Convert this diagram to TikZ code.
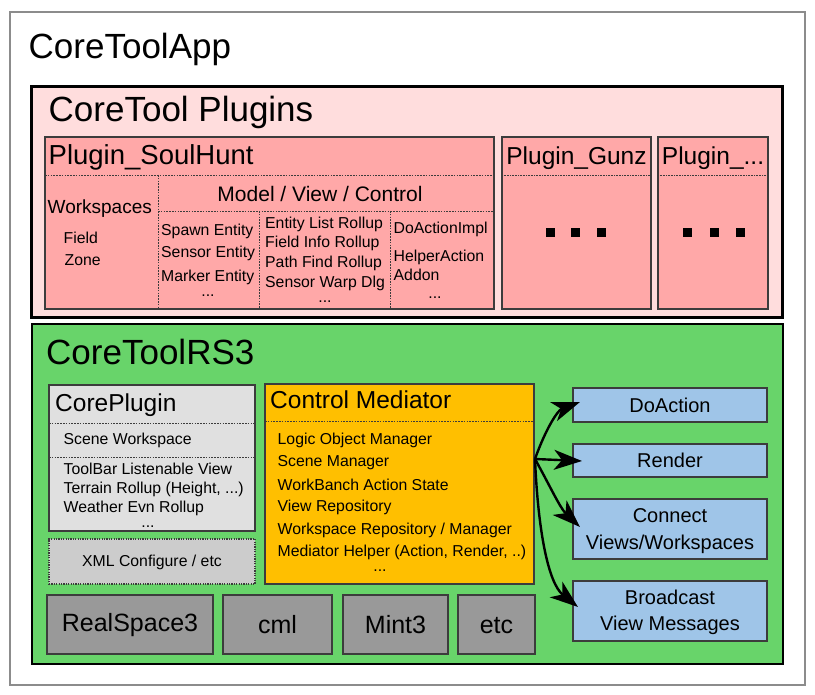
\documentclass[tikz,border=0pt]{standalone}
\usepackage{fontspec}
\setmainfont{Liberation Sans}
\usetikzlibrary{fit,calc,arrows.meta}
\newcommand\myfs[1]{\fontsize{#1}{#1}\selectfont}
\definecolor{pinkbg}{RGB}{255,221,221}
\definecolor{pinkbox}{RGB}{255,168,168}
\definecolor{rsgreen}{RGB}{104,212,106}
\definecolor{cpgray}{RGB}{224,224,224}
\definecolor{xmlgray}{RGB}{204,204,204}
\definecolor{cmorange}{RGB}{255,191,0}
\definecolor{libgray}{RGB}{153,153,153}
\definecolor{viewblue}{RGB}{159,197,232}
\definecolor{edge}{RGB}{60,60,60}
\begin{document}
\begin{tikzpicture}[x=1pt,y=-1pt,
  frame/.style={inner sep=0pt,outer sep=0pt,draw=edge,line width=1.2pt},
  sep/.style={draw=edge,line width=0.8pt,dash pattern=on 1.6pt off 1.2pt},
  big/.style={inner sep=0pt,anchor=base west,font=\myfs{35}},
  sm/.style={inner sep=0pt,anchor=base west,font=\myfs{15.8}},
  smc/.style={inner sep=0pt,anchor=base,font=\myfs{15.8}},
  mid/.style={inner sep=0pt,anchor=base west,font=\myfs{24.5}},
  lib/.style={inner sep=0pt,anchor=base,font=\myfs{25}},
  blu/.style={inner sep=0pt,anchor=base,font=\myfs{20}},
  dotsq/.style={fill=black,inner sep=0pt,minimum size=9pt,draw=none},
  conn/.style={line width=2.4pt,-{Stealth[length=28pt,width=20pt,inset=8pt]}}
]
\useasboundingbox (0,0) rectangle (815,695);
\fill[white] (0,0) rectangle (815,695);
% outer app
\node[frame,draw=gray!90,line width=2pt,fill=white,fit={(10,12)(805,685)}] (app) {};
\node[big] (tapp) at (28.5,58.5) {CoreToolApp};
% plugins
\node[frame,draw=black,line width=3pt,fill=pinkbg,fit={(31,87)(782,318)}] (plugins) {};
\node[big] (tplugins) at (48.5,122) {CoreTool Plugins};
% soulhunt
\node[frame,fill=pinkbox,fit={(45,137)(494,309)}] (soul) {};
\node[inner sep=0pt,anchor=base west,font=\myfs{27.5}] (tsoul) at (48.5,165) {Plugin\_SoulHunt};
\draw[sep] (soul.west |- 0,175) -- (soul.east |- 0,175);
\draw[sep] (158,175) -- (158,0 |- soul.south);
\draw[sep] (158,211) -- (soul.east |- 0,211);
\draw[sep] (259,211) -- (259,0 |- soul.south);
\draw[sep] (390,211) -- (390,0 |- soul.south);
\node[inner sep=0pt,anchor=base,font=\myfs{21}] (tmvc) at (320,202) {Model / View / Control};
\node[inner sep=0pt,anchor=base west,font=\myfs{19}] (tws) at (47.5,213.5) {Workspaces};
\node[sm] (tfield) at (63.5,243.5) {Field};
\node[sm] (tzone) at (64.5,265.5) {Zone};
\foreach \t/\y [count=\i] in {Spawn Entity/236,Sensor Entity/258,Marker Entity/281.5}
  \node[sm,name=ca\i] at (161,\y) {\t};
\node[smc] (cadots) at (208,296.5) {...};
\foreach \t/\y [count=\i] in {Entity List Rollup/228.5,Field Info Rollup/248,Path Find Rollup/268,Sensor Warp Dlg/288}
  \node[sm,name=cb\i] at (265,\y) {\t};
\node[smc] (cbdots) at (325,303) {...};
\foreach \t/\y [count=\i] in {DoActionImpl/234,HelperAction/261.5,Addon/281}
  \node[sm,name=cc\i] at (393.5,\y) {\t};
\node[smc] (ccdots) at (435,298.5) {...};
% gunz
\node[frame,fill=pinkbox,fit={(502,137)(651,309)}] (gunz) {};
\node[inner sep=0pt,anchor=base,font=\myfs{24.5}] (tgunz) at (576.5,165) {Plugin\_Gunz};
\draw[sep,dash pattern=on 0.8pt off 0.8pt] (gunz.west |- 0,175) -- (gunz.east |- 0,175);
\foreach \x [count=\i] in {550.5,575.5,601}
  \node[dotsq,name=gd\i] at (\x,233) {};
% other
\node[frame,fill=pinkbox,fit={(658,137)(768,309)}] (other) {};
\node[inner sep=0pt,anchor=base,font=\myfs{24.5}] (tother) at (713,165) {Plugin\_...};
\draw[sep,dash pattern=on 0.8pt off 0.8pt] (other.west |- 0,175) -- (other.east |- 0,175);
\foreach \x [count=\i] in {687,714,740}
  \node[dotsq,name=od\i] at (\x,233) {};
% RS3
\node[frame,draw=black,line width=2.5pt,fill=rsgreen,fit={(32,324)(783,664)}] (rs) {};
\node[big] (trs) at (46,365) {CoreToolRS3};
% coreplugin
\node[frame,fill=cpgray,fit={(49,385)(255,531)}] (cp) {};
\node[mid] (tcp) at (55,411.5) {CorePlugin};
\draw[sep] (cp.west |- 0,423) -- (cp.east |- 0,423);
\draw[sep] (cp.west |- 0,457) -- (cp.east |- 0,457);
\node[sm] (tscene) at (63.5,444.5) {Scene Workspace};
\foreach \t/\y [count=\i] in {ToolBar Listenable View/474.5,{Terrain Rollup (Height, ...)}/493.5,Weather Evn Rollup/512}
  \node[sm,name=cpl\i] at (63.5,\y) {\t};
\node[smc] (cpdots) at (148,527) {...};
% xml
\node[frame,fill=xmlgray,dash pattern=on 1.2pt off 1.2pt,fit={(49,539)(255,584)}] (xml) {};
\node[smc] (txml) at (152,566.5) {XML Configure / etc};
% control mediator
\node[frame,fill=cmorange,fit={(265,384)(534,584)}] (cm) {};
\node[mid] (tcm) at (270,409) {Control Mediator};
\draw[sep] (cm.west |- 0,421) -- (cm.east |- 0,421);
\foreach \t/\y [count=\i] in {Logic Object Manager/445,Scene Manager/466.5,WorkBanch Action State/490.5,View Repository/511,{Workspace Repository / Manager}/534,{Mediator Helper (Action, Render, ..)}/556}
  \node[sm,name=cml\i] at (277.5,\y) {\t};
\node[smc] (cmdots) at (380,571) {...};
% libraries
\node[frame,fill=libgray,fit={(47,595)(213,654)}] (rs3) {};
\node[lib] (trs3) at (130,631.5) {RealSpace3};
\node[frame,fill=libgray,fit={(223,595)(332,654)}] (cml) {};
\node[lib] (tcml) at (277.5,633.5) {cml};
\node[frame,fill=libgray,fit={(343,595)(448,654)}] (mint) {};
\node[lib] (tmint) at (395.5,633.5) {Mint3};
\node[frame,fill=libgray,fit={(458,595)(535,654)}] (etc) {};
\node[lib] (tetc) at (496.5,633.5) {etc};
% blue boxes
\node[frame,fill=viewblue,fit={(573,388)(767,422)}] (doact) {};
\node[blu] (tdoact) at (670,412.5) {DoAction};
\node[frame,fill=viewblue,fit={(573,444)(767,477)}] (render) {};
\node[blu] (trender) at (670,467.5) {Render};
\node[frame,fill=viewblue,fit={(573,499)(767,559)}] (connect) {};
\node[blu] (tconn1) at (670,522) {Connect};
\node[blu] (tconn2) at (670,549) {Views/Workspaces};
\node[frame,fill=viewblue,fit={(573,581)(767,641)}] (bcast) {};
\node[blu] (tb1) at (670,604) {Broadcast};
\node[blu] (tb2) at (670,630.5) {View Messages};
% arrows
\coordinate (src) at (535,459);
\draw[conn] (src) .. controls (546,428) and (558,410) .. ($(doact.west)+(7,-3)$);
\draw[conn] (src) -- ($(render.west)+(9,0.5)$);
\draw[conn] (src) .. controls (550,486) and (560,508) .. ($(connect.west)+(7,-2)$);
\draw[conn] (src) .. controls (538,530) and (548,583) .. ($(bcast.west)+(5,-4)$);
\end{tikzpicture}
\end{document}
